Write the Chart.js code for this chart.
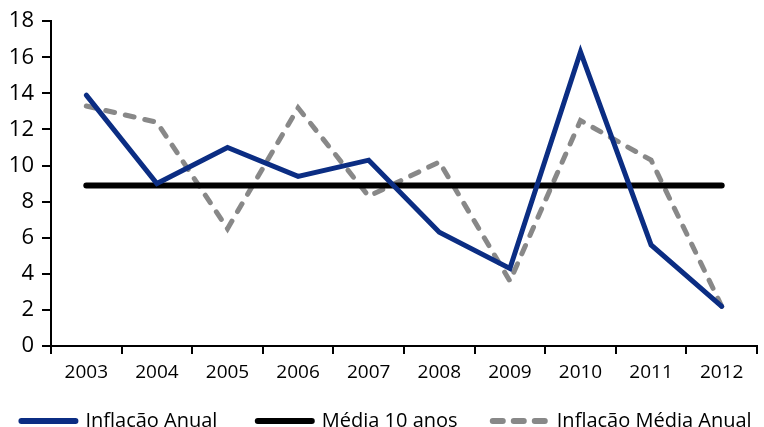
<!DOCTYPE html>
<html>
<head>
<meta charset="utf-8">
<script src="https://cdn.jsdelivr.net/npm/chart.js@4"></script>
<style>
  html, body { margin: 0; padding: 0; background: #fff; }
  #wrap { width: 764px; height: 427px; }
</style>
</head>
<body>
<div id="wrap"><canvas id="myChart" width="764" height="427"></canvas></div>
<script>
const years = ["2003", "2004", "2005", "2006", "2007", "2008", "2009", "2010", "2011", "2012"];
const inflacaoAnual = [13.9, 9.0, 11.0, 9.4, 10.3, 6.3, 4.3, 16.3, 5.6, 2.2];
const media10 = [8.9, 8.9, 8.9, 8.9, 8.9, 8.9, 8.9, 8.9, 8.9, 8.9];
const inflacaoMedia = [13.3, 12.4, 6.5, 13.2, 8.3, 10.2, 3.6, 12.5, 10.3, 2.2];
const yTicks = [0, 2, 4, 6, 8, 10, 12, 14, 16, 18];

const family = "'Open Sans', sans-serif";
// extra room after each legend text so the items spread like the original
const legendGap = ["       ", "      ", ""];

new Chart("myChart", {
  type: "line",
  data: {
    labels: years,
    datasets: [{
      label: "Inflação Anual",
      data: inflacaoAnual,
      borderColor: "#0b2d83",
      backgroundColor: "#0b2d83",
      borderWidth: 5,
      borderJoinStyle: "miter",
      borderCapStyle: "round",
      pointRadius: 0,
      tension: 0
    }, {
      label: "Média 10 anos",
      data: media10,
      borderColor: "#000",
      backgroundColor: "#000",
      borderWidth: 6,
      borderCapStyle: "round",
      pointRadius: 0,
      tension: 0
    }, {
      label: "Inflação Média Anual",
      data: inflacaoMedia,
      borderColor: "#888888",
      backgroundColor: "#888888",
      borderWidth: 5,
      borderDash: [9, 11],
      borderCapStyle: "round",
      pointRadius: 0,
      tension: 0
    }]
  },
  options: {
    responsive: false,
    animation: false,
    layout: { padding: { top: 20, right: 0, left: 9, bottom: -14 } },
    plugins: {
      tooltip: { enabled: false },
      legend: {
        position: "bottom",
        align: "center",
        labels: {
          color: "#000",
          font: { family: family, size: 20 },
          usePointStyle: true,
          pointStyle: "line",
          pointStyleWidth: 54,
          boxHeight: 6,
          padding: 4,
          generateLabels: function (chart) {
            return chart.data.datasets.map(function (ds, i) {
              return {
                text: ds.label + legendGap[i],
                strokeStyle: ds.borderColor,
                fillStyle: ds.borderColor,
                lineWidth: 6,
                lineCap: "round",
                lineDash: ds.borderDash ? [10, 11] : [],
                pointStyle: "line",
                datasetIndex: i,
                fontColor: "#000"
              };
            });
          }
        }
      }
    },
    scales: {
      x: {
        offset: true,
        afterFit: function (axis) {
          axis.height = 61;
          axis.paddingRight = 7;
        },
        grid: { display: true, offset: true, drawOnChartArea: false, drawTicks: true, tickLength: 8, color: "#000", lineWidth: 2 },
        border: { color: "#000", width: 2 },
        ticks: { color: "#000", font: { family: family, size: 19 }, padding: 7, maxRotation: 0 }
      },
      y: {
        min: 0,
        max: 18,
        afterBuildTicks: function (axis) {
          axis.ticks = yTicks.map(function (v) { return { value: v }; });
        },
        afterFit: function (axis) {
          axis.width = 42;
        },
        grid: { display: true, drawOnChartArea: false, drawTicks: true, tickLength: 9, color: "#000", lineWidth: 2 },
        border: { color: "#000", width: 2 },
        ticks: { color: "#000", font: { family: family, size: 22 }, padding: 8 }
      }
    }
  }
});
</script>
</body>
</html>
